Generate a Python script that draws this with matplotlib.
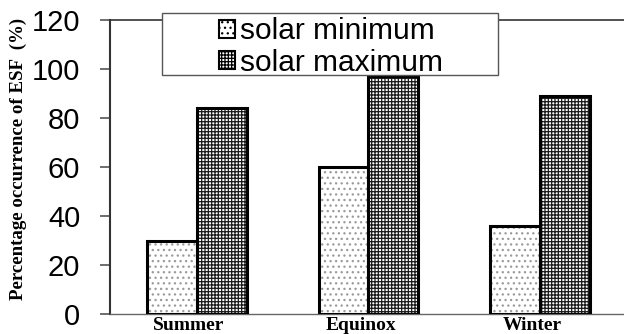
import matplotlib
matplotlib.use("Agg")
import matplotlib.pyplot as plt
from matplotlib.patches import Patch, Rectangle
from matplotlib.transforms import ScaledTranslation
import numpy as np

seasons = ["Summer", "Equinox", "Winter"]
solar_min = [30, 60, 36]
solar_max = [84, 97, 89]
yticks = [0, 20, 40, 60, 80, 100, 120]

plt.rcParams['hatch.linewidth'] = 0.9

fig = plt.figure(figsize=(6.24, 3.34), dpi=100)
ax = fig.add_axes([110/624, 20/334, 1 - 110/624, 1 - 40/334])

x = np.arange(len(seasons))
w = 0.29

# solar minimum: dotted fill
ax.bar(x - w/2, solar_min, w, color="white", edgecolor="#9a9a9a", hatch="...", linewidth=0, zorder=2)
ax.bar(x - w/2, solar_min, w, fill=False, edgecolor="black", linewidth=2.2, zorder=3)
# solar maximum: dense grid
ax.bar(x + w/2, solar_max, w, color="white", edgecolor="#1a1a1a", hatch="+++++", linewidth=0, zorder=2)
ax.bar(x + w/2, solar_max, w, fill=False, edgecolor="black", linewidth=2.2, zorder=3)

ax.set_xlim(-0.507, 2.49)
ax.set_ylim(0, 120)
ax.set_yticks(yticks)
ax.set_yticklabels([str(t) for t in yticks], fontsize=21, family="Liberation Sans")
ax.tick_params(axis='y', direction='out', length=7.5, width=1.2, color="#555555", pad=14)
ax.set_xticks(x)
ax.set_xticklabels(seasons, fontsize=14, family="Liberation Serif", fontweight="bold")
ax.tick_params(axis='x', length=0, pad=2)
shift = ScaledTranslation(-8/100, 0, fig.dpi_scale_trans)
for lbl in ax.get_xticklabels():
    lbl.set_transform(lbl.get_transform() + shift)

ax.spines['right'].set_visible(False)
ax.spines['top'].set_color("#333333")
ax.spines['top'].set_linewidth(1.2)
ax.spines['left'].set_color("#333333")
ax.spines['left'].set_linewidth(1.5)
ax.spines['bottom'].set_color("#666666")
ax.spines['bottom'].set_linewidth(1.0)

ax.set_ylabel("Percentage occurrence of ESF  (%)", fontsize=13.6, family="Liberation Serif",
              fontweight="bold")
ax.yaxis.set_label_coords(-0.161, 0.527)

# legend frame
frame = Rectangle((162/624, 1 - 75/334), (498-162)/624, (75-13)/334, transform=fig.transFigure,
                  facecolor="white", edgecolor="#555555", linewidth=1.0, zorder=5)
fig.patches.append(frame)

handles = [Patch(facecolor="white", edgecolor="black", hatch="...", linewidth=1.5, label="solar minimum"),
           Patch(facecolor="white", edgecolor="black", hatch="+++++", linewidth=1.5, label="solar maximum")]
leg = fig.legend(handles=handles, loc="center left", bbox_to_anchor=(219/624, 1 - 47/334),
                 frameon=False, prop={"family": "Liberation Sans", "size": 21.5},
                 handlelength=0.55, handleheight=0.55, handletextpad=0.15, labelspacing=0.12,
                 borderpad=0, borderaxespad=0)
leg.set_zorder(6)

fig.savefig("out.png", dpi=100)
